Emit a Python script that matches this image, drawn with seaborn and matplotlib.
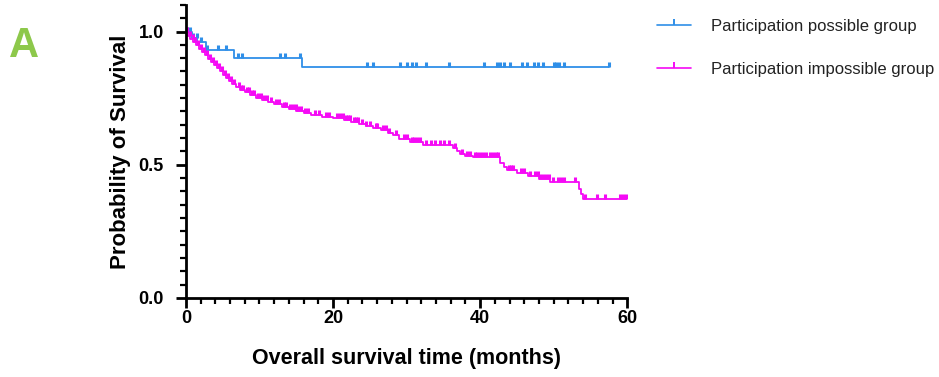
import numpy as np
import pandas as pd
import matplotlib
matplotlib.use("Agg")
import matplotlib.pyplot as plt
from matplotlib.lines import Line2D
from matplotlib.ticker import MultipleLocator
import seaborn as sns

# Participation possible group: step times / survival after each step
pos_time = [0.0, 0.8, 1.5, 2.7, 6.5, 15.8, 57.5]
pos_surv = [1.0, 0.975, 0.959, 0.932, 0.901, 0.868, 0.868]
pos_cens = [0.1, 0.5, 1.0, 1.45, 2.1, 2.8, 4.4, 5.5, 7.1, 7.6, 12.8, 13.5, 15.5,
            24.6, 25.5, 29.1, 30.0, 30.7, 31.3, 32.7, 35.8, 40.5, 42.3, 42.7,
            43.2, 44.1, 45.7, 46.4, 47.3, 47.9, 48.6, 50.0, 50.3, 50.7, 51.4, 57.5]

# Participation impossible group
imp_time = [0.0, 0.3, 0.6, 1.0, 1.4, 1.8, 2.2, 2.6, 3.0, 3.4, 3.8, 4.2, 4.6, 5.0,
            5.4, 5.8, 6.3, 6.8, 7.4, 8.0, 8.7, 9.5, 10.3, 11.2, 12.0, 13.0, 14.0,
            15.0, 16.0, 17.0, 18.5, 20.0, 21.5, 22.5, 23.5, 24.5, 25.5, 26.5, 27.5,
            28.2, 29.0, 30.5, 32.2, 36.3, 36.8, 37.3, 38.0, 39.0, 42.7, 43.2, 43.6,
            45.0, 46.5, 48.0, 49.5, 53.4, 53.7, 54.0, 60.0]
imp_surv = [1.0, 0.985, 0.972, 0.96, 0.948, 0.935, 0.922, 0.91, 0.898, 0.886,
            0.874, 0.862, 0.85, 0.838, 0.826, 0.815, 0.803, 0.792, 0.782, 0.772,
            0.762, 0.752, 0.743, 0.734, 0.726, 0.718, 0.71, 0.702, 0.694, 0.686,
            0.68, 0.674, 0.667, 0.66, 0.653, 0.646, 0.638, 0.63, 0.62, 0.61, 0.598,
            0.587, 0.575, 0.563, 0.552, 0.541, 0.533, 0.527, 0.505, 0.49, 0.479,
            0.468, 0.457, 0.446, 0.436, 0.41, 0.39, 0.372, 0.372]
imp_cens = [0.2, 0.5, 0.9, 1.3, 1.7, 2.1, 2.5, 2.9, 3.3, 3.7, 4.1, 4.5, 4.9, 5.3,
            5.7, 6.1, 6.6, 7.2, 7.5, 7.8, 8.3, 8.6, 9.0, 9.3, 9.8, 10.2, 10.6, 11.0,
            11.5, 12.2, 12.6, 13.3, 13.6, 14.2, 14.5, 14.9, 15.3, 15.6, 16.2, 16.6,
            17.5, 18.1, 19.0, 19.4, 20.6, 21.0, 21.3, 21.8, 22.0, 22.3, 22.8, 23.1,
            23.4, 24.0, 24.5, 25.0, 25.8, 26.0, 26.8, 27.2, 27.6, 28.5, 29.6, 30.1,
            30.7, 31.0, 31.4, 31.8, 32.6, 33.3, 33.9, 34.5, 35.1, 35.7, 36.6, 37.6,
            38.2, 38.6, 39.3, 39.6, 40.0, 40.4, 40.8, 41.3, 41.7, 42.1, 42.4, 43.9,
            44.2, 44.5, 45.6, 46.0, 46.8, 47.5, 47.8, 48.2, 48.6, 49.0, 49.4, 49.9,
            50.6, 51.0, 51.4, 52.9, 54.3, 55.9, 57.0, 59.0, 59.4, 59.8]

groups = ["Participation possible group", "Participation impossible group"]
colors = ["#2F8FE8", "#F50AF5"]

sns.set_style("ticks")
plt.rcParams['font.family'] = ['Liberation Sans', 'DejaVu Sans']

fig = plt.figure(figsize=(9.39, 3.77), dpi=100)
ax = fig.add_axes([0.198, 0.21, 0.47, 0.777])

series = [(pos_time, pos_surv, pos_cens), (imp_time, imp_surv, imp_cens)]
handles = []
for (t, s, c), name, col in zip(series, groups, colors):
    df = pd.DataFrame({"time": t, "surv": s})
    sns.lineplot(data=df, x="time", y="surv", drawstyle="steps-post",
                 estimator=None, color=col, linewidth=1.3, ax=ax)
    # censored marks sit on the curve
    idx = np.searchsorted(np.array(t), np.array(c), side="right") - 1
    cy = np.array(s)[idx]
    ax.plot(c, cy, linestyle="none", marker=2, markersize=3.5,
            markeredgewidth=2.2, color=col)
    handles.append(Line2D([0], [0], color=col, linewidth=1.2, marker=2,
                          markersize=4, markeredgewidth=1.4))

ax.set_xlim(0, 60)
ax.set_ylim(0, 1.1)
ax.set_xticks([0, 20, 40, 60])
ax.set_yticks([0.0, 0.5, 1.0])
ax.set_yticklabels(["0.0", "0.5", "1.0"])
ax.xaxis.set_minor_locator(MultipleLocator(2))
ax.yaxis.set_minor_locator(MultipleLocator(0.05))
ax.tick_params(which="major", length=7, width=2, labelsize=13, colors="black")
ax.tick_params(axis="x", which="major", pad=2)
ax.tick_params(axis="y", which="major", pad=9)
ax.tick_params(which="minor", length=4, width=1.6, colors="black")
for lab in ax.get_xticklabels() + ax.get_yticklabels():
    lab.set_fontweight("bold")
for sp in ["left", "bottom"]:
    ax.spines[sp].set_linewidth(2)
    ax.spines[sp].set_color("black")
sns.despine(ax=ax)

ax.set_xlabel("Overall survival time (months)", fontsize=15.5, fontweight="bold",
              labelpad=15, color="black")
ax.set_ylabel("Probability of Survival", fontsize=16, fontweight="bold",
              labelpad=5, color="black")

fig.legend(handles, groups, loc="upper left", bbox_to_anchor=(0.684, 0.99),
           frameon=False, fontsize=12, handlelength=2.0, handletextpad=1.2,
           labelspacing=1.7, labelcolor="#222222")

fig.text(0.01, 0.93, "A", fontsize=30, fontweight="bold", color="#8DC84B",
         va="top", ha="left")

fig.savefig("out.png", dpi=100)
